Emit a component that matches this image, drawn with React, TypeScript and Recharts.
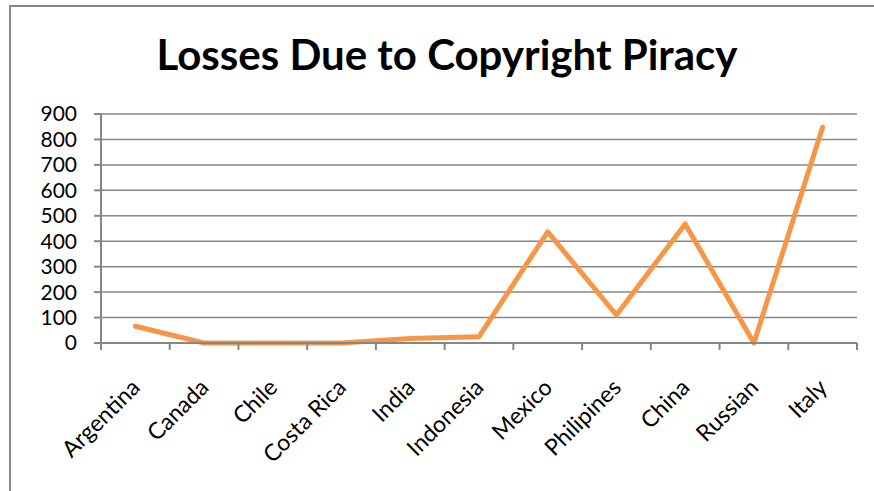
import { CartesianGrid, Line, LineChart, XAxis, YAxis } from 'recharts';

// categories along the bottom
const countries = [
  'Argentina',
  'Canada',
  'Chile',
  'Costa Rica',
  'India',
  'Indonesia',
  'Mexico',
  'Philipines',
  'China',
  'Russian',
  'Italy',
];

// losses
const losses = [66, 0, 0, 0, 18, 25, 437, 110, 468, 0, 848];

const yTicks = [0, 100, 200, 300, 400, 500, 600, 700, 800, 900];

const data = countries.map((name, i) => ({ name, loss: losses[i] }));

const FONT = 'Lato, "Open Sans", sans-serif';
const GRID = '#868686';

// label rotated -45deg, plus Excel-style tick marks between categories
function CountryTick(props: any) {
  const { x, y, payload, index, width, visibleTicksCount } = props;
  const band = width / visibleTicksCount;
  const px = x + 6;
  const py = y + 46;
  return (
    <g>
      <line x1={x - band / 2} y1={y} x2={x - band / 2} y2={y + 7} stroke={GRID} strokeWidth={2} />
      {index === visibleTicksCount - 1 && (
        <line x1={x + band / 2} y1={y} x2={x + band / 2} y2={y + 7} stroke={GRID} strokeWidth={2} />
      )}
      <text
        x={px}
        y={py}
        transform={`rotate(-45 ${px} ${py})`}
        textAnchor="end"
        fontFamily={FONT}
        fontSize={23}
        fill="#000"
      >
        {payload.value}
      </text>
    </g>
  );
}

export default function App() {
  return (
    <div style={{ position: 'absolute', left: 0, top: 0, width: 874, height: 491, background: '#fff', overflow: 'hidden' }}>
      {/* chart frame */}
      <div
        style={{
          position: 'absolute',
          left: 9,
          top: 5,
          width: 900,
          height: 600,
          border: `2px solid ${GRID}`,
          boxSizing: 'border-box',
        }}
      />
      <div
        style={{
          position: 'absolute',
          left: 10,
          top: 29,
          width: 874,
          textAlign: 'center',
          fontFamily: FONT,
          fontWeight: 700,
          fontSize: 42,
          lineHeight: '50px',
          color: '#000',
        }}
      >
        Losses Due to Copyright Piracy
      </div>
      <div style={{ position: 'absolute', left: 0, top: 0 }}>
        <LineChart width={874} height={491} data={data} margin={{ top: 114, right: 17, bottom: 0, left: 0 }}>
          <CartesianGrid horizontal vertical={false} stroke={GRID} strokeWidth={1.5} />
          <XAxis
            dataKey="name"
            scale="band"
            interval={0}
            height={148}
            tickSize={0}
            tickMargin={0}
            tickLine={false}
            stroke={GRID}
            axisLine={{ stroke: GRID, strokeWidth: 2 }}
            tick={<CountryTick />}
          />
          <YAxis
            domain={[0, 900]}
            ticks={yTicks}
            width={101}
            interval={0}
            tickSize={7}
            tickMargin={17}
            stroke={GRID}
            axisLine={{ stroke: GRID, strokeWidth: 2 }}
            tickLine={{ stroke: GRID, strokeWidth: 2 }}
            tick={{ fill: '#000', fontSize: 21, fontFamily: FONT }}
          />
          <Line
            type="linear"
            dataKey="loss"
            stroke="#F79646"
            strokeWidth={5}
            strokeLinejoin="round"
            strokeLinecap="round"
            dot={false}
            activeDot={false}
            isAnimationActive={false}
          />
        </LineChart>
      </div>
    </div>
  );
}
